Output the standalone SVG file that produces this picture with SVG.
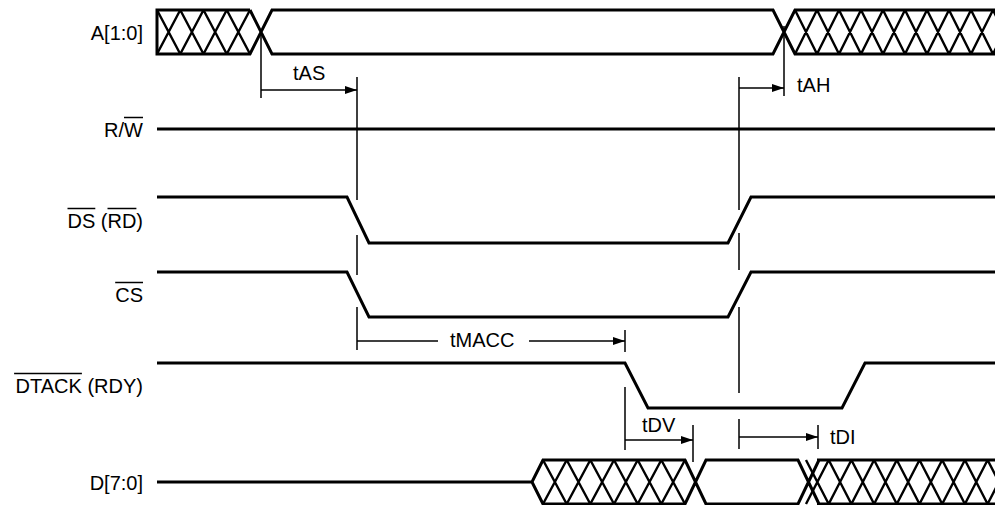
<svg xmlns="http://www.w3.org/2000/svg" width="995" height="505" viewBox="0 0 995 505">
<style>
.sig{fill:none;stroke:#000;stroke-width:3;stroke-linejoin:miter}
.hat{fill:none;stroke:#000;stroke-width:2.4}
.thin{fill:none;stroke:#000;stroke-width:1.5}
.ov{stroke:#000;stroke-width:1.5}
text{font-family:"Liberation Sans",Arial,sans-serif;font-size:20px;fill:#000}
.lbl{text-anchor:end}
</style>
<defs>
<marker id="arr" markerUnits="userSpaceOnUse" markerWidth="12" markerHeight="8" refX="12" refY="4" orient="auto">
<path d="M0,0 L12,4 L0,8 z" fill="#000"/>
</marker>
<clipPath id="clipR"><rect x="0" y="0" width="995" height="505"/></clipPath>
</defs>
<rect width="995" height="505" fill="#fff"/>

<g id="sig-A">
<text class="lbl" x="143" y="40">A[1:0]</text>
<path class="sig" d="M250,10 H157 V54 H250 L272,10 H773 L795,54 H995 M250,10 L272,54 H773 L795,10 H995"/>
<path class="hat" d="M157,10 L180.25,54 M157,54 L180.25,10 M180.25,10 L203.5,54 M180.25,54 L203.5,10 M203.5,10 L226.75,54 M203.5,54 L226.75,10 M226.75,10 L250,54 M226.75,54 L250,10"/>
<path class="hat" clip-path="url(#clipR)" d="M795,10 L817,54 M795,54 L817,10 M817,10 L839,54 M817,54 L839,10 M839,10 L861,54 M839,54 L861,10 M861,10 L883,54 M861,54 L883,10 M883,10 L905,54 M883,54 L905,10 M905,10 L927,54 M905,54 L927,10 M927,10 L949,54 M927,54 L949,10 M949,10 L971,54 M949,54 L971,10 M971,10 L993,54 M971,54 L993,10 M993,10 L1015,54 M993,54 L1015,10"/>
</g>

<g id="sig-RW">
<text class="lbl" x="143" y="137">R/W</text>
<line class="ov" x1="124" y1="117.5" x2="143" y2="117.5"/>
<path class="sig" d="M157,129 H995"/>
</g>

<g id="sig-DS">
<text class="lbl" x="143" y="228">DS (RD)</text>
<line class="ov" x1="67.5" y1="208.5" x2="95.3" y2="208.5"/>
<line class="ov" x1="107.5" y1="208.5" x2="136.4" y2="208.5"/>
<path class="sig" d="M157,197 H347 L369,243 H728 L751,197 H995"/>
</g>

<g id="sig-CS">
<text class="lbl" x="143" y="302">CS</text>
<line class="ov" x1="115.2" y1="282.5" x2="143" y2="282.5"/>
<path class="sig" d="M157,272 H347 L369,317 H728 L751,272 H995"/>
</g>

<g id="sig-DTACK">
<text class="lbl" x="143" y="393">DTACK (RDY)</text>
<line class="ov" x1="14.1" y1="373.5" x2="81.9" y2="373.5"/>
<path class="sig" d="M157,363 H625 L648,408 H842 L865,363 H995"/>
</g>

<g id="sig-D">
<text class="lbl" x="143" y="490">D[7:0]</text>
<path class="sig" d="M157,482 H532 L543,460 H685 L706,504 H798 L819,460 M532,482 L543,504 H685 L706,460 H798 L819,504 M817,460 H995 M817,504 H995"/>
<path class="hat" d="M543,460 L566.7,504 M543,504 L566.7,460 M566.7,460 L590.3,504 M566.7,504 L590.3,460 M590.3,460 L614,504 M590.3,504 L614,460 M614,460 L637.7,504 M614,504 L637.7,460 M637.7,460 L661.3,504 M637.7,504 L661.3,460 M661.3,460 L685,504 M661.3,504 L685,460"/>
<path class="hat" clip-path="url(#clipR)" d="M806,460 L828.7,504 M806,504 L828.7,460 M828.7,460 L851.4,504 M828.7,504 L851.4,460 M851.4,460 L874.1,504 M851.4,504 L874.1,460 M874.1,460 L896.8,504 M874.1,504 L896.8,460 M896.8,460 L919.5,504 M896.8,504 L919.5,460 M919.5,460 L942.2,504 M919.5,504 L942.2,460 M942.2,460 L964.9,504 M942.2,504 L964.9,460 M964.9,460 L987.6,504 M964.9,504 L987.6,460 M987.6,460 L1010.3,504 M987.6,504 L1010.3,460"/>
</g>

<g id="connectors">
<path class="thin" d="M261,30 V98 M357,77 V200 M357,235 V275 M357,307 V350 M784,26 V96 M739,77 V210 M739,233 V270 M739,307 V393 M739,419 V449 M625,330 V352 M625,387 V450 M693,425 V462 M818,425 V449"/>
<line class="thin" x1="261" y1="90" x2="357" y2="90" marker-end="url(#arr)"/>
<text x="293" y="80">tAS</text>
<line class="thin" x1="739" y1="88" x2="784" y2="88" marker-end="url(#arr)"/>
<text x="797" y="92">tAH</text>
<line class="thin" x1="357" y1="341" x2="438" y2="341"/>
<line class="thin" x1="529" y1="341" x2="625" y2="341" marker-end="url(#arr)"/>
<text x="450" y="347">tMACC</text>
<line class="thin" x1="625" y1="440" x2="693" y2="440" marker-end="url(#arr)"/>
<text x="642" y="432">tDV</text>
<line class="thin" x1="739" y1="437" x2="818" y2="437" marker-end="url(#arr)"/>
<text x="830" y="444">tDI</text>
</g>
</svg>
